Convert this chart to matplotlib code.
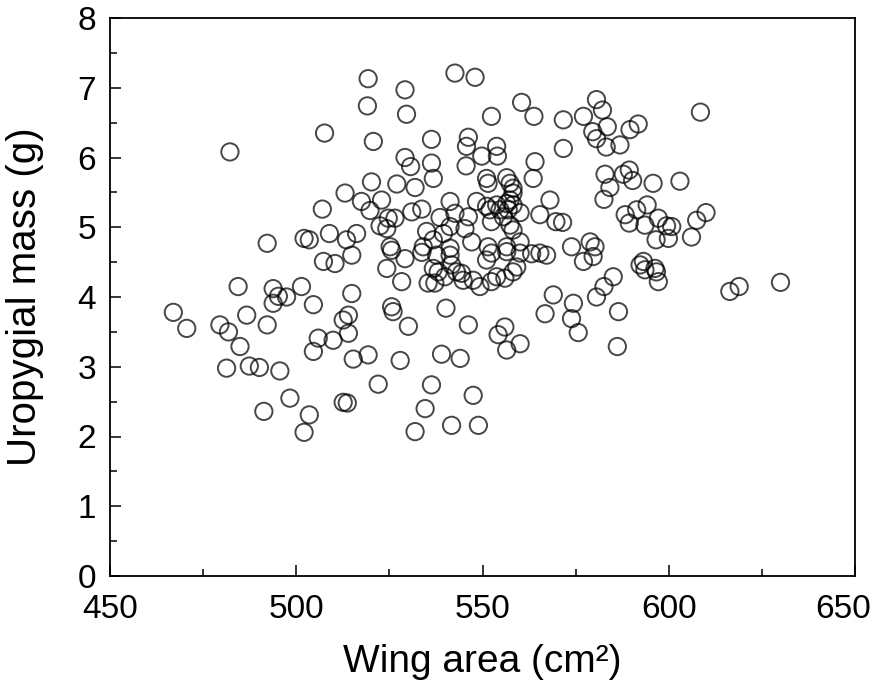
import matplotlib
matplotlib.use("Agg")
import matplotlib.pyplot as plt
from matplotlib.ticker import MultipleLocator
from matplotlib.transforms import ScaledTranslation

# Wing area (cm^2) and uropygial mass (g)
wing_area = [
    580.6, 582.2, 571.7, 577.1, 563.8, 583.5, 579.6, 580.6, 583.2, 586.9,
    589.6, 591.8, 608.5, 571.7, 564.1, 563.6, 582.9, 587.8, 589.4, 590.3,
    595.8, 603.0, 584.2, 582.6, 568.1, 565.4, 569.7, 571.5, 588.3, 589.4,
    591.4, 594.2, 597.2, 593.6, 599.4, 600.8, 607.5, 610.0, 606.1, 596.6,
    599.9, 573.9, 578.9, 580.2,
    565.4, 567.2, 563.2, 579.7, 577.1, 585.1, 582.6, 580.6, 569.0, 566.8,
    574.4, 573.9, 575.7, 586.5, 586.2, 593.2, 592.3, 593.6, 596.3, 596.7,
    597.2, 616.4, 618.9, 630.0,
    507.6, 482.2, 513.1, 507.0, 508.9, 502.1, 503.5, 492.2, 513.5,
    519.3, 542.6, 548.0, 529.2, 519.1, 529.6, 560.5, 552.4, 520.7, 536.3,
    546.2, 545.7, 553.8, 549.8, 554.0, 529.2, 530.7, 536.3, 545.6, 520.2,
    527.0, 531.9, 536.8, 551.1, 551.5, 556.5, 557.4, 558.2, 558.2, 517.5,
    522.9, 519.8, 524.7, 526.5, 522.5, 524.3, 531.0, 533.7, 538.6, 541.3,
    542.6, 546.2, 548.4, 551.1, 552.0, 553.8, 554.7, 556.5, 557.4, 558.2,
    556.9, 555.6, 560.1, 516.2, 535.0, 536.8, 539.5, 541.3, 545.3, 552.4,
    557.4, 558.2, 547.1, 525.2, 534.1, 541.3, 551.5, 556.5, 560.1,
    514.9, 525.6, 529.2, 533.7, 537.7, 541.3, 541.7, 536.8, 538.1, 535.4,
    537.2, 539.9, 543.0, 544.4, 544.8, 547.5, 549.3, 552.4, 551.1, 556.5,
    560.1, 553.8, 556.0, 558.2, 559.2, 552.4, 524.3, 528.3, 514.9, 525.6,
    526.0, 540.2, 530.1, 546.2, 556.0, 554.2, 560.1, 556.5, 514.0, 512.6,
    514.0, 515.3, 519.3, 527.9, 539.0, 544.0, 522.0, 536.3, 547.5, 512.6,
    513.7, 534.6, 531.9, 541.7, 548.9,
    507.3, 510.4, 484.4, 493.8, 495.2, 497.4, 493.8, 501.4, 504.6, 467.0,
    470.6, 479.5, 481.8, 486.7, 492.2, 484.9, 505.9, 509.9, 504.6, 481.3,
    487.4, 490.1, 495.6, 498.3, 491.3, 503.5, 502.1,
]
uropygial_mass = [
    6.83, 6.68, 6.54, 6.59, 6.59, 6.44, 6.37, 6.27, 6.15, 6.18,
    6.40, 6.48, 6.65, 6.13, 5.94, 5.70, 5.76, 5.76, 5.82, 5.67,
    5.63, 5.66, 5.57, 5.40, 5.39, 5.18, 5.08, 5.07, 5.18, 5.06,
    5.25, 5.32, 5.13, 5.03, 5.02, 5.01, 5.10, 5.21, 4.86, 4.82,
    4.84, 4.72, 4.79, 4.72,
    4.63, 4.60, 4.62, 4.58, 4.51, 4.29, 4.15, 4.00, 4.03, 3.76,
    3.91, 3.69, 3.49, 3.79, 3.29, 4.51, 4.46, 4.39, 4.41, 4.36,
    4.22, 4.08, 4.15, 4.21,
    6.35, 6.08, 5.49, 5.26, 4.91, 4.84, 4.82, 4.77, 4.82,
    7.13, 7.21, 7.15, 6.97, 6.74, 6.62, 6.79, 6.59, 6.23, 6.26,
    6.29, 6.16, 6.16, 6.02, 6.02, 6.00, 5.87, 5.92, 5.88, 5.65,
    5.62, 5.57, 5.70, 5.70, 5.63, 5.71, 5.63, 5.56, 5.49, 5.37,
    5.39, 5.24, 5.13, 5.13, 5.02, 4.98, 5.22, 5.26, 5.14, 5.37,
    5.20, 5.15, 5.37, 5.30, 5.25, 5.32, 5.25, 5.34, 5.39, 5.32,
    5.25, 5.15, 5.21, 4.91, 4.94, 4.82, 4.91, 5.01, 4.98, 5.08,
    5.03, 4.96, 4.79, 4.72, 4.72, 4.70, 4.72, 4.72, 4.79,
    4.60, 4.67, 4.55, 4.64, 4.60, 4.60, 4.46, 4.41, 4.36, 4.20,
    4.20, 4.29, 4.36, 4.34, 4.24, 4.24, 4.15, 4.63, 4.53, 4.65,
    4.63, 4.29, 4.27, 4.36, 4.43, 4.22, 4.41, 4.22, 4.05, 3.86,
    3.79, 3.84, 3.58, 3.60, 3.57, 3.46, 3.33, 3.24, 3.74, 3.67,
    3.48, 3.11, 3.17, 3.09, 3.18, 3.12, 2.75, 2.74, 2.59, 2.49,
    2.48, 2.40, 2.07, 2.16, 2.16,
    4.51, 4.48, 4.15, 4.12, 4.01, 4.00, 3.91, 4.15, 3.89, 3.78,
    3.55, 3.60, 3.50, 3.74, 3.60, 3.29, 3.41, 3.38, 3.22, 2.98,
    3.01, 2.99, 2.94, 2.55, 2.36, 2.31, 2.06,
]

x_ticks = [450, 500, 550, 600, 650]
x_tick_labels = ["450", "500", "550", "600", "650"]
y_ticks = [0, 1, 2, 3, 4, 5, 6, 7, 8]
x_label = "Wing area (cm²)"
y_label = "Uropygial mass (g)"

plt.rcParams['font.family'] = ['Liberation Sans', 'DejaVu Sans']

fig = plt.figure(figsize=(8.73, 6.87), dpi=100)
ax = fig.add_axes([110/873, 1 - 576/687, 745/873, 558/687])

ax.scatter(wing_area, uropygial_mass, s=155, facecolors='none',
           edgecolors='black', linewidths=1.4, alpha=0.72, zorder=3)

ax.set_xlim(450, 650)
ax.set_ylim(0, 8)
ax.set_xticks(x_ticks, labels=x_tick_labels)
ax.set_yticks(y_ticks)
ax.xaxis.set_minor_locator(MultipleLocator(25))
ax.yaxis.set_minor_locator(MultipleLocator(0.5))

ax.tick_params(axis='both', which='both', direction='in', top=False, right=False,
               width=1.1, labelsize=24)
ax.tick_params(axis='both', which='major', length=8)
ax.tick_params(axis='both', which='minor', length=5)
ax.tick_params(axis='x', which='major', pad=13)
ax.tick_params(axis='y', which='major', pad=10)

for sp in ax.spines.values():
    sp.set_linewidth(1.3)

ax.set_xlabel(x_label, fontsize=28, labelpad=14)
ax.set_ylabel(y_label, fontsize=29, labelpad=24)

# the last x tick label sits slightly inward so it stays within the figure
for tick in ax.xaxis.get_major_ticks():
    if abs(tick.get_loc() - x_ticks[-1]) < 1e-9:
        lab = tick.label1
        lab.set_transform(lab.get_transform() +
                          ScaledTranslation(-12/100, 0, fig.dpi_scale_trans))

fig.savefig("out.png", dpi=100)
